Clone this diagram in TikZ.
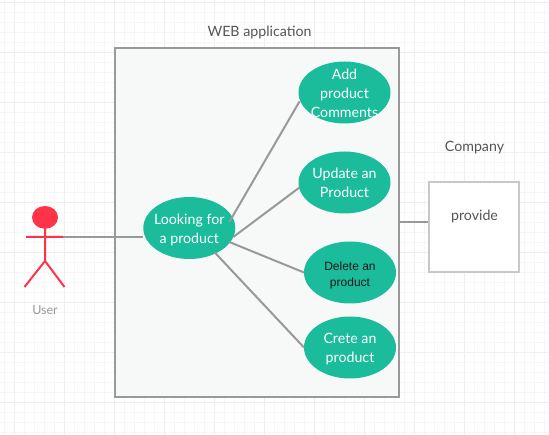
\documentclass[tikz,border=0pt]{standalone}
\usepackage{fontspec}
\setmainfont{Lato}
\newfontfamily\arialfont{Liberation Sans}
\usetikzlibrary{shapes.geometric}
\definecolor{gridc}{HTML}{F6F6F6}
\definecolor{gridm}{HTML}{EEEEEE}
\definecolor{teal1}{HTML}{1ABC9C}
\definecolor{wire}{HTML}{999999}
\definecolor{actorred}{HTML}{FF3347}
\definecolor{panel}{HTML}{F6F9F8}
\definecolor{boxline}{HTML}{C8C8C8}
\definecolor{lbl}{HTML}{555555}
\newcommand\uctext[1]{\raisebox{-5.5pt}[0pt][0pt]{\makebox[0pt]{\begin{tabular}{@{}c@{}}#1\end{tabular}}}}
\tikzset{
  usecase/.style={ellipse,fill=teal1,draw=none,minimum width=92pt,minimum height=62pt,inner sep=0pt,
    text=white,font=\fontsize{14.2}{19}\selectfont},
  wireline/.style={draw=wire,line width=2pt},
  actorline/.style={draw=actorred,line width=2pt},
  caption/.style={text=lbl,font=\fontsize{14.2}{19}\selectfont,inner sep=0pt}
}
\begin{document}
\begin{tikzpicture}[x=1pt,y=-1pt]
\useasboundingbox (0,0) rectangle (549,435);
\fill[white] (0,0) rectangle (549,435);
\foreach \i in {4.5,14.5,...,544.5} \draw[gridc,line width=1pt] (\i,0) -- (\i,435);
\foreach \i in {2.5,12.5,...,432.5} \draw[gridc,line width=1pt] (0,\i) -- (549,\i);
\foreach \i in {14.5,64.5,...,544.5} \draw[gridm,line width=1pt] (\i,0) -- (\i,435);
\foreach \i in {2.5,52.5,...,432.5} \draw[gridm,line width=1pt] (0,\i) -- (549,\i);
\node[draw=wire,fill=panel,line width=2pt,minimum width=284pt,minimum height=349pt,inner sep=0pt,anchor=center] (app) at (257,222.5) {};
\node[draw=boxline,fill=white,line width=2pt,minimum width=90pt,minimum height=90pt,inner sep=0pt] (company) at (474.3,227) {};
\node[usecase] (look) at (189.3,228) {\uctext{Looking for\\a product}};
\node[usecase] (add) at (344.5,92.5) {\uctext{Add\\product\\Comments}};
\node[usecase] (update) at (344.5,182.5) {\uctext{Update an\\Product}};
\node[usecase,text=black!90,font=\arialfont\fontsize{12}{16}\selectfont] (delete) at (350,272.5) {\uctext{Delete an\\product}};
\node[usecase] (crete) at (350,347.5) {\uctext{Crete an\\product}};
\node[caption] (webt) at (259.5,32) {WEB application};
\node[caption] (compt) at (474.5,148) {Company};
\node[caption] (prov) at (474.5,216) {provide};
% actor
\fill[actorred] (45,217.4) ellipse (13pt and 11.4pt);
\coordinate (neck) at (45,228);
\coordinate (hip) at (45,261);
\coordinate (armL) at (26,237);
\coordinate (armR) at (63,237);
\coordinate (footL) at (24.5,287);
\coordinate (footR) at (64.5,287);
\draw[actorline] (neck) -- (hip) (armL) -- (armR) (footL) -- (hip) -- (footR);
\node[text=wire,font=\fontsize{12.5}{14}\selectfont,inner sep=0pt] (usert) at (45,310) {User};
% connectors
\draw[wireline] (armR) -- (look.west |- armR);
\draw[wireline] ([shift={(40,-6)}]look.center) -- ([shift={(-45,9)}]add.center);
\draw[wireline] ([shift={(44,9)}]look.center) -- ([shift={(-45,5)}]update.center);
\draw[wireline] ([shift={(40,14)}]look.center) -- ([shift={(-46,0)}]delete.center);
\draw[wireline] ([shift={(25,24)}]look.center) -- ([shift={(-46,0)}]crete.center);
\draw[wireline] (app.east |- 0,222) -- (company.west |- 0,222);
\end{tikzpicture}
\end{document}
